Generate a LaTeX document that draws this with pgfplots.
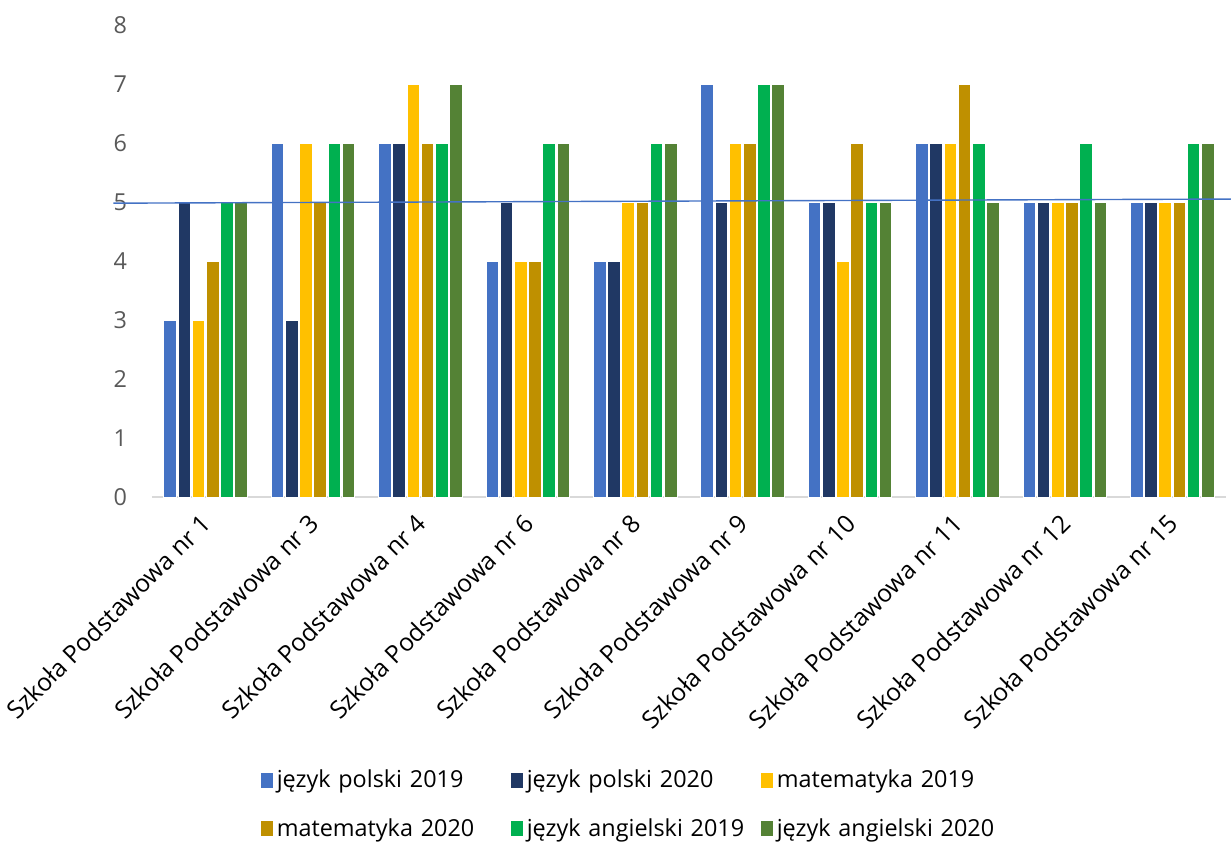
\documentclass[border=0pt]{standalone}
\usepackage{fontspec}
\setmainfont{Open Sans}
\usepackage{pgfplots}
\pgfplotsset{compat=1.18}

\definecolor{jp19}{HTML}{4472C4}
\definecolor{jp20}{HTML}{203864}
\definecolor{ma19}{HTML}{FFC000}
\definecolor{ma20}{HTML}{BF9000}
\definecolor{an19}{HTML}{00B050}
\definecolor{an20}{HTML}{548235}
\definecolor{ticktext}{HTML}{595959}
\definecolor{axisgray}{HTML}{D9D9D9}

% columns: group index, then the six subjects
\pgfplotstableread{
x jp19 jp20 ma19 ma20 an19 an20
0 3 5 3 4 5 5
1 6 3 6 5 6 6
2 6 6 7 6 6 7
3 4 5 4 4 6 6
4 4 4 5 5 6 6
5 7 5 6 6 7 7
6 5 5 4 6 5 5
7 6 6 6 7 6 5
8 5 5 5 5 6 5
9 5 5 5 5 6 6
}\scores

\pgfplotsset{
    frame/.style={
        at={(0,0)}, anchor=south west,
        scale only axis,
        width=537pt, height=236pt,
        xmin=-0.5, xmax=9.5,
        ymin=0, ymax=8,
        clip=false,
    },
}

\begin{document}
\begin{tikzpicture}
\begin{axis}[
    frame,
    ytick={0,...,8},
    xtick=data,
    xticklabels={Szkoła Podstawowa nr 1, Szkoła Podstawowa nr 3,
        Szkoła Podstawowa nr 4, Szkoła Podstawowa nr 6,
        Szkoła Podstawowa nr 8, Szkoła Podstawowa nr 9,
        Szkoła Podstawowa nr 10, Szkoła Podstawowa nr 11,
        Szkoła Podstawowa nr 12, Szkoła Podstawowa nr 15},
    x tick label style={xshift=-3pt, yshift=-6pt, rotate=45, anchor=north east,
        font=\fontsize{12.3}{14}\selectfont, inner sep=1pt},
    y tick label style={font=\fontsize{11.7}{13}\selectfont, text=ticktext},
    yticklabel style={xshift=-9pt},
    /pgf/number format/assume math mode=true,
    axis x line*=bottom,
    axis y line*=left,
    x axis line style={draw=axisgray, line width=0.8pt, -},
    y axis line style={draw=none},
    major tick length=0pt,
    ybar=0.75pt,
    bar width=6.35pt,
    legend columns=3,
    legend cell align=left,
    legend style={
        draw=none,
        at={(0.0953,-0.561)}, anchor=north west,
        font=\fontsize{11.7}{13}\selectfont,
        nodes={text width=115pt, align=left, inner xsep=2pt},
        row sep=10pt,
    },
    legend image code/.code={
        \fill[#1, draw=none] (0pt,-3.5pt) rectangle (6pt,4pt);
    },
]
\addplot[fill=jp19, draw=white, line width=0.5pt] table[x=x, y=jp19] {\scores};
\addlegendentry{język polski 2019}
\addplot[fill=jp20, draw=white, line width=0.5pt] table[x=x, y=jp20] {\scores};
\addlegendentry{język polski 2020}
\addplot[fill=ma19, draw=white, line width=0.5pt] table[x=x, y=ma19] {\scores};
\addlegendentry{matematyka 2019}
\addplot[fill=ma20, draw=white, line width=0.5pt] table[x=x, y=ma20] {\scores};
\addlegendentry{matematyka 2020}
\addplot[fill=an19, draw=white, line width=0.5pt] table[x=x, y=an19] {\scores};
\addlegendentry{język angielski 2019}
\addplot[fill=an20, draw=white, line width=0.5pt] table[x=x, y=an20] {\scores};
\addlegendentry{język angielski 2020}
\end{axis}
% thin reference line across the chart, on an overlay axis without bars
\begin{axis}[frame, hide axis]
\addplot[sharp plot, jp19, line width=0.7pt]
    coordinates {(-0.86,4.98) (9.55,5.05)};
\end{axis}
\pgfresetboundingbox
\path[use as bounding box] (-76pt,-172pt) rectangle (539.5pt,248.5pt);
\end{tikzpicture}
\end{document}
